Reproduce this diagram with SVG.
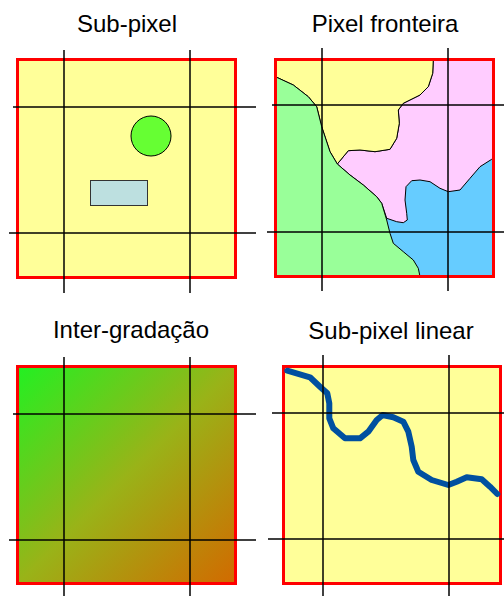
<svg xmlns="http://www.w3.org/2000/svg" width="504" height="596" viewBox="0 0 504 596">
<style>
  .title { font-family: "Liberation Sans", Arial, sans-serif; font-size: 24px; fill: #000; text-anchor: middle; }
  .frame { stroke: #FF0000; stroke-width: 3; }
  .grid { stroke: #000; stroke-width: 1.5; fill: none; }
  .region { stroke: #000; stroke-width: 1; }
</style>
<defs>
  <linearGradient id="grad" x1="0" y1="0" x2="1" y2="1">
    <stop offset="0" stop-color="#22F022"/>
    <stop offset="0.5" stop-color="#99B318"/>
    <stop offset="1" stop-color="#D26A00"/>
  </linearGradient>
</defs>
<rect width="504" height="596" fill="#FFFFFF"/>

<g id="panel-subpixel">
  <text class="title" x="127" y="32">Sub-pixel</text>
  <rect class="frame" x="17.5" y="59.5" width="218" height="218" fill="#FFFF99"/>
  <circle cx="151" cy="136" r="20" fill="#66FF33" stroke="#000" stroke-width="1"/>
  <rect x="90.5" y="180.5" width="57" height="25" fill="#BDE0E0" stroke="#333" stroke-width="1"/>
</g>

<g id="panel-fronteira">
  <text class="title" x="385" y="32">Pixel fronteira</text>
  <rect x="275.5" y="59.5" width="218" height="217" fill="#66CCFF"/>
  <path class="region" fill="#FFCCFF" d="M433.3,59.5 L493.5,59.5 L493.5,159.3 L491.7,159.3 L480,166.7 L470,178.3 L460,190 L448.3,191.7 L440,188.3 L430,181.7 L420,180 L411.7,180.7 L406,186.7 L405,200 L406.7,213.3 L407.3,220 L403.3,222.7 L396.7,221.7 L386.7,218.3 L381.7,203.3 L376.7,196.7 L363.3,185 L350,175 L337.3,164 L348.3,150.7 L360,150 L375,151.7 L390,149.3 L396.7,138.3 L399.3,123.3 L398.3,110 L403.3,103.3 L420,95 L428.3,86.7 L432.7,73.3 Z"/>
  <path class="region" fill="#FFFF99" d="M275.5,59.5 L433.3,59.5 L432.7,73.3 L428.3,86.7 L420,95 L403.3,103.3 L398.3,110 L399.3,123.3 L396.7,138.3 L390,149.3 L375,151.7 L360,150 L348.3,150.7 L337.3,164 L330,151.7 L321.7,126.7 L316.7,106.7 L308.3,96.7 L293.3,85 L276.7,77.3 L275.5,77 Z"/>
  <path class="region" fill="#99FF99" d="M275.5,77 L276.7,77.3 L293.3,85 L308.3,96.7 L316.7,106.7 L321.7,126.7 L330,151.7 L337.3,164 L350,175 L363.3,185 L376.7,196.7 L381.7,203.3 L386.7,220 L390,233.3 L393.3,243.3 L403.3,251.7 L413.3,260 L418.3,268.3 L420,276.5 L275.5,276.5 Z"/>
  <rect class="frame" x="275.5" y="59.5" width="218" height="217" fill="none"/>
</g>

<g id="panel-intergradacao">
  <text class="title" x="131" y="338">Inter-gradação</text>
  <rect class="frame" x="17.5" y="366.5" width="218" height="217" fill="url(#grad)"/>
</g>

<g id="panel-linear">
  <text class="title" x="391" y="339">Sub-pixel linear</text>
  <rect class="frame" x="283.5" y="366.5" width="217" height="217" fill="#FFFF99"/>
  <path fill="none" stroke="#0050A0" stroke-width="6" stroke-linecap="round" stroke-linejoin="round" d="M287.3,370.7 L310,377.3 L320,386.7 L327.3,393.3 L329.3,403.3 L329.3,418.3 L333.3,428.3 L345,438.3 L360,438.3 L368.3,431.7 L376.7,420 L382.7,415 L393.3,417.3 L403.3,421.7 L408.3,431.7 L411.7,446.7 L413.3,460 L418.3,471.7 L431.7,480 L448.3,485 L456.7,481.7 L466.7,477.3 L481.7,479.3 L490,486.7 L497.3,494"/>
</g>

<g id="connectors">
  <line class="grid" x1="64" y1="50" x2="64" y2="293"/>
  <line class="grid" x1="190" y1="50" x2="190" y2="293"/>
  <line class="grid" x1="13" y1="107" x2="256" y2="107"/>
  <line class="grid" x1="9" y1="233" x2="256" y2="233"/>

  <line class="grid" x1="322" y1="48" x2="322" y2="291"/>
  <line class="grid" x1="448" y1="48" x2="448" y2="291"/>
  <line class="grid" x1="272" y1="105" x2="504" y2="105"/>
  <line class="grid" x1="267" y1="232" x2="504" y2="232"/>

  <line class="grid" x1="64" y1="357" x2="64" y2="596"/>
  <line class="grid" x1="190" y1="357" x2="190" y2="596"/>
  <line class="grid" x1="13" y1="414" x2="256" y2="414"/>
  <line class="grid" x1="9" y1="540" x2="256" y2="540"/>

  <line class="grid" x1="323" y1="355" x2="323" y2="596"/>
  <line class="grid" x1="449" y1="355" x2="449" y2="596"/>
  <line class="grid" x1="272" y1="413" x2="504" y2="413"/>
  <line class="grid" x1="268" y1="539" x2="504" y2="539"/>
</g>
</svg>
